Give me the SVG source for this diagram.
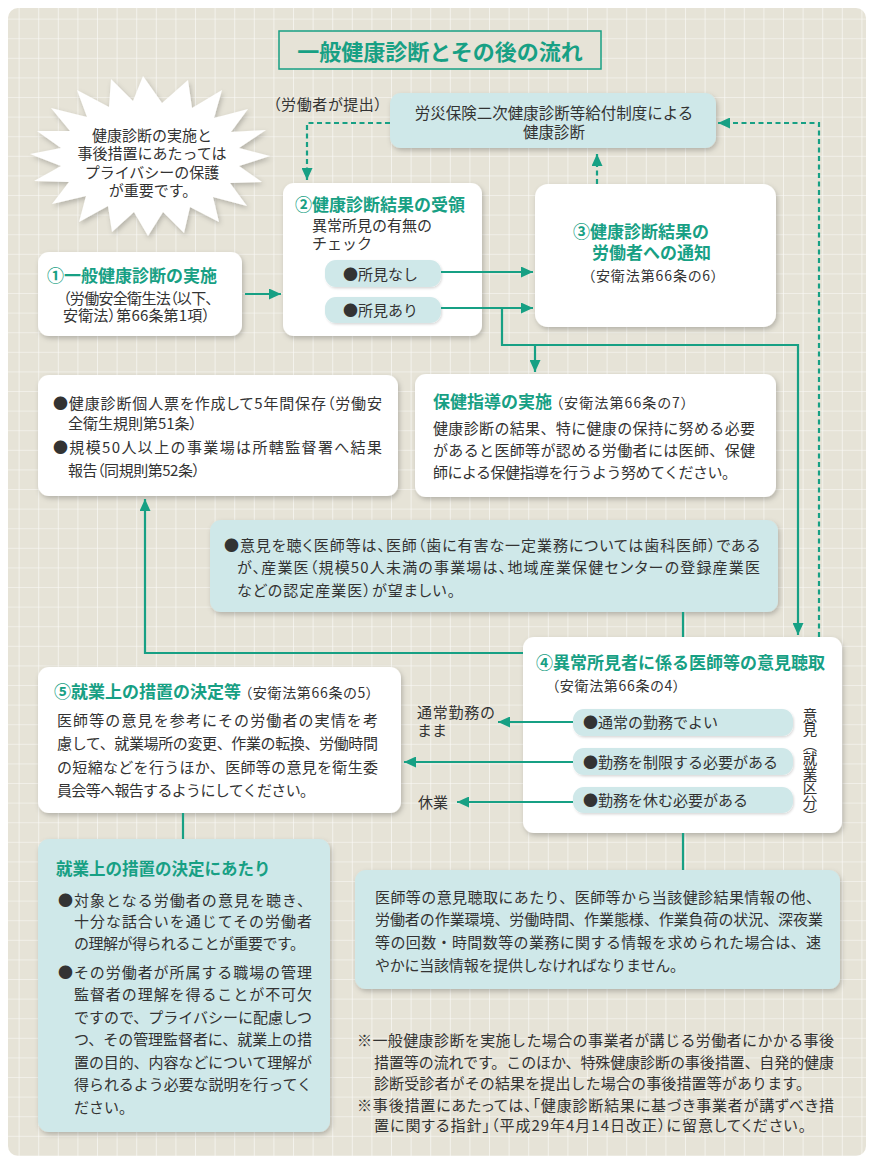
<svg xmlns="http://www.w3.org/2000/svg" width="869" height="1160" viewBox="0 0 869 1160">
<defs>
<style>
text{font-family:"Noto Sans CJK JP","Noto Sans",sans-serif;fill:#333}
.t{font-size:15px}
.s{font-size:14px}
.p{font-feature-settings:"palt"}
.h{font-size:17px;font-weight:bold;fill:#17a084}
.box{fill:#fff;filter:url(#sh)}
.bbox{fill:#cfe8e9;filter:url(#sh)}
.pill{fill:#cfe8e9;filter:url(#shs)}
.ln{fill:none;stroke:#17a084;stroke-width:2.2}
.ds{fill:none;stroke:#17a084;stroke-width:2.2;stroke-dasharray:5 3.5}
</style>
<pattern id="grid" width="19.6" height="19.6" patternUnits="userSpaceOnUse">
<path d="M19.6 0V19.6M0 19.6H19.6" stroke="#fff" stroke-width="1.2" stroke-opacity="0.85" fill="none"/>
</pattern>
<filter id="sh" x="-10%" y="-10%" width="125%" height="130%">
<feDropShadow dx="1.5" dy="2.5" stdDeviation="2.5" flood-color="#000" flood-opacity="0.22"/>
</filter>
<filter id="shs" x="-10%" y="-20%" width="125%" height="150%">
<feDropShadow dx="1" dy="1.5" stdDeviation="1.2" flood-color="#000" flood-opacity="0.15"/>
</filter>
<marker id="ah" viewBox="0 0 12 11" refX="12" refY="5.5" markerWidth="12" markerHeight="11" markerUnits="userSpaceOnUse" orient="auto">
<path d="M0 0L12 5.5L0 11z" fill="#17a084"/>
</marker>
</defs>
<rect width="869" height="1160" fill="#fff"/>
<rect x="8" y="8" width="858" height="1148" rx="10" fill="#e6e3d7"/>
<rect x="8" y="8" width="858" height="1148" rx="10" fill="url(#grid)"/>

<g id="node-title">
<rect x="279" y="31" width="322" height="38" fill="#e6e3d7" stroke="#17a084" stroke-width="1.5"/>
<text x="440" y="60" text-anchor="middle" style="font-size:22px;font-weight:bold;fill:#17a084">一般健康診断とその後の流れ</text>
</g>

<g id="label-teishutsu">
<text class="t p" x="273" y="110" textLength="109">（労働者が提出）</text>
</g>

<g id="node-rousai">
<rect class="bbox" x="390" y="93" width="326" height="55" rx="11"/>
<text class="t" x="554" y="119" text-anchor="middle" style="font-size:15.5px">労災保険二次健康診断等給付制度による</text>
<text class="t" x="554" y="138" text-anchor="middle" style="font-size:15.5px">健康診断</text>
</g>

<g id="node-starburst">
<polygon filter="url(#sh)" fill="#fff" points="143,76 162,103 188,80 192,108 222,90 214,118 248,109 231,132 266,130 239,148 270,156 239,166 262,182 230,183 247,206 213,197 219,222 190,207 184,233 163,212 148,236 134,212 112,232 108,206 79,222 86,196 52,204 69,182 34,181 61,166 30,154 61,148 37,131 70,131 51,108 87,117 77,90 109,107 111,79 133,101"/>
<text class="t" x="152" y="141" text-anchor="middle" style="font-size:15px">健康診断の実施と</text>
<text class="t" x="152" y="159" text-anchor="middle" style="font-size:15px">事後措置にあたっては</text>
<text class="t" x="152" y="178" text-anchor="middle" style="font-size:15px">プライバシーの保護</text>
<text class="t" x="153" y="196" text-anchor="middle" style="font-size:15px">が重要です。</text>
</g>

<g id="node-1">
<rect class="box" x="38" y="252" width="204" height="84" rx="11"/>
<text class="h" x="47" y="282">①一般健康診断の実施</text>
<text class="t p" x="63" y="304" textLength="150">（労働安全衛生法（以下、</text>
<text class="t p" x="63" y="321" textLength="147">安衛法）第66条第1項）</text>
</g>

<g id="node-2">
<rect class="box" x="283" y="183" width="199" height="153" rx="11"/>
<text class="h" x="295" y="211">②健康診断結果の受領</text>
<text class="t" x="312" y="231">異常所見の有無の</text>
<text class="t" x="312" y="249">チェック</text>
<rect class="pill" x="325" y="260" width="116" height="27" rx="11"/>
<text class="t" x="343" y="280">●所見なし</text>
<rect class="pill" x="325" y="297" width="116" height="26" rx="11"/>
<text class="t" x="343" y="316">●所見あり</text>
</g>

<g id="node-3">
<rect class="box" x="535" y="184" width="241" height="143" rx="13"/>
<text class="h" x="573" y="238">③健康診断結果の</text>
<text class="h" x="592" y="259">労働者への通知</text>
<text class="s p" x="588" y="281" textLength="130">（安衛法第66条の6）</text>
</g>

<g id="node-kojinhyo">
<rect class="box" x="38" y="375" width="360" height="121" rx="11"/>
<text class="t p" x="53" y="409" textLength="329">●健康診断個人票を作成して5年間保存（労働安</text>
<text class="t p" x="68" y="429" textLength="129">全衛生規則第51条）</text>
<text class="t" x="53" y="453" textLength="329">●規模50人以上の事業場は所轄監督署へ結果</text>
<text class="t p" x="68" y="476" textLength="132">報告（同規則第52条）</text>
</g>

<g id="node-hoken">
<rect class="box" x="415" y="374" width="361" height="123" rx="11"/>
<text class="h" x="433" y="408">保健指導の実施</text>
<text class="s p" x="556" y="408" textLength="132">（安衛法第66条の7）</text>
<text class="t" x="433" y="434" textLength="322">健康診断の結果、特に健康の保持に努める必要</text>
<text class="t" x="433" y="456" textLength="322">があると医師等が認める労働者には医師、保健</text>
<text class="t" x="433" y="478" textLength="304">師による保健指導を行うよう努めてください。</text>
</g>

<g id="node-ishi-note">
<rect class="bbox" x="210" y="520" width="568" height="92" rx="11"/>
<text class="t p" x="224" y="551" textLength="536">●意見を聴く医師等は、医師（歯に有害な一定業務については歯科医師）である</text>
<text class="t p" x="237" y="573" textLength="523">が、産業医（規模50人未満の事業場は、地域産業保健センターの登録産業医</text>
<text class="t p" x="237" y="596" textLength="218">などの認定産業医）が望ましい。</text>
</g>

<g id="node-4">
<rect class="box" x="523" y="637" width="319" height="196" rx="11"/>
<text class="h" x="536" y="669">④異常所見者に係る医師等の意見聴取</text>
<text class="s p" x="552" y="691" textLength="128">（安衛法第66条の4）</text>
<rect class="pill" x="573" y="709" width="220" height="27" rx="11"/>
<text class="t" x="583" y="728">●通常の勤務でよい</text>
<rect class="pill" x="573" y="748" width="220" height="27" rx="11"/>
<text class="t" x="583" y="768">●勤務を制限する必要がある</text>
<rect class="pill" x="573" y="787" width="220" height="26" rx="11"/>
<text class="t" x="583" y="806">●勤務を休む必要がある</text>
<text class="t" x="810" y="708" style="writing-mode:vertical-rl;font-size:14.5px">意見（就業区分）</text>
</g>

<g id="labels-outcome">
<text class="t" x="417" y="718" textLength="78">通常勤務の</text>
<text class="t" x="417" y="736">まま</text>
<text class="t" x="418" y="808">休業</text>
</g>

<g id="node-5">
<rect class="box" x="38" y="667" width="363" height="146" rx="11"/>
<text class="h" x="54" y="698">⑤就業上の措置の決定等</text>
<text class="s p" x="245" y="698" textLength="128">（安衛法第66条の5）</text>
<text class="t" x="57" y="726" textLength="321">医師等の意見を参考にその労働者の実情を考</text>
<text class="t" x="57" y="749" textLength="321">慮して、就業場所の変更、作業の転換、労働時間</text>
<text class="t" x="57" y="773" textLength="321">の短縮などを行うほか、医師等の意見を衛生委</text>
<text class="t" x="57" y="796" textLength="258">員会等へ報告するようにしてください。</text>
</g>

<g id="node-atari">
<rect class="bbox" x="38" y="839" width="292" height="293" rx="11"/>
<text class="h" x="56" y="875" style="font-size:16.5px">就業上の措置の決定にあたり</text>
<text class="t" x="58" y="906" textLength="254">●対象となる労働者の意見を聴き、</text>
<text class="t" x="74" y="927" textLength="238">十分な話合いを通じてその労働者</text>
<text class="t" x="74" y="949" textLength="231">の理解が得られることが重要です。</text>
<text class="t" x="58" y="978" textLength="254">●その労働者が所属する職場の管理</text>
<text class="t" x="74" y="1000" textLength="238">監督者の理解を得ることが不可欠</text>
<text class="t" x="74" y="1023" textLength="238">ですので、プライバシーに配慮しつ</text>
<text class="t" x="74" y="1045" textLength="238">つ、その管理監督者に、就業上の措</text>
<text class="t" x="74" y="1068" textLength="238">置の目的、内容などについて理解が</text>
<text class="t" x="74" y="1090" textLength="238">得られるよう必要な説明を行ってく</text>
<text class="t" x="74" y="1113">ださい。</text>
</g>

<g id="node-info">
<rect class="bbox" x="355" y="870" width="485" height="119" rx="11"/>
<text class="t" x="375" y="903" textLength="446">医師等の意見聴取にあたり、医師等から当該健診結果情報の他、</text>
<text class="t" x="375" y="925" textLength="448">労働者の作業環境、労働時間、作業態様、作業負荷の状況、深夜業</text>
<text class="t" x="375" y="948" textLength="446">等の回数・時間数等の業務に関する情報を求められた場合は、速</text>
<text class="t" x="375" y="971" textLength="310">やかに当該情報を提供しなければなりません。</text>
</g>

<g id="notes">
<text class="t" x="357" y="1046" textLength="477">※一般健康診断を実施した場合の事業者が講じる労働者にかかる事後</text>
<text class="t" x="374" y="1068" textLength="460">措置等の流れです。このほか、特殊健康診断の事後措置、自発的健康</text>
<text class="t" x="374" y="1089" textLength="437">診断受診者がその結果を提出した場合の事後措置等があります。</text>
<text class="t p" x="357" y="1111" textLength="477">※事後措置にあたっては、「健康診断結果に基づき事業者が講ずべき措</text>
<text class="t p" x="374" y="1131" textLength="432">置に関する指針」（平成29年4月14日改正）に留意してください。</text>
</g>

<g id="connectors">
<line class="ln" x1="245" y1="294" x2="281" y2="294" marker-end="url(#ah)"/>
<line class="ln" x1="441" y1="272" x2="533" y2="272" marker-end="url(#ah)"/>
<line class="ln" x1="441" y1="308" x2="533" y2="308" marker-end="url(#ah)"/>
<polyline class="ln" points="502,308 502,345 798,345 798,635" marker-end="url(#ah)"/>
<line class="ln" x1="535" y1="345" x2="535" y2="372" marker-end="url(#ah)"/>
<polyline class="ds" points="390,123 307,123 307,180" marker-end="url(#ah)"/>
<line class="ds" x1="597" y1="184" x2="597" y2="154" marker-end="url(#ah)"/>
<polyline class="ds" points="819,637 819,123 718,123" marker-end="url(#ah)"/>
<line class="ln" x1="683" y1="612" x2="683" y2="637"/>
<line class="ln" x1="683" y1="833" x2="683" y2="870"/>
<polyline class="ln" points="523,653 145,653 145,499" marker-end="url(#ah)"/>
<line class="ln" x1="183" y1="813" x2="183" y2="839"/>
<line class="ln" x1="573" y1="722" x2="498" y2="722" marker-end="url(#ah)"/>
<line class="ln" x1="573" y1="762" x2="404" y2="762" marker-end="url(#ah)"/>
<line class="ln" x1="573" y1="802" x2="457" y2="802" marker-end="url(#ah)"/>
</g>
</svg>
